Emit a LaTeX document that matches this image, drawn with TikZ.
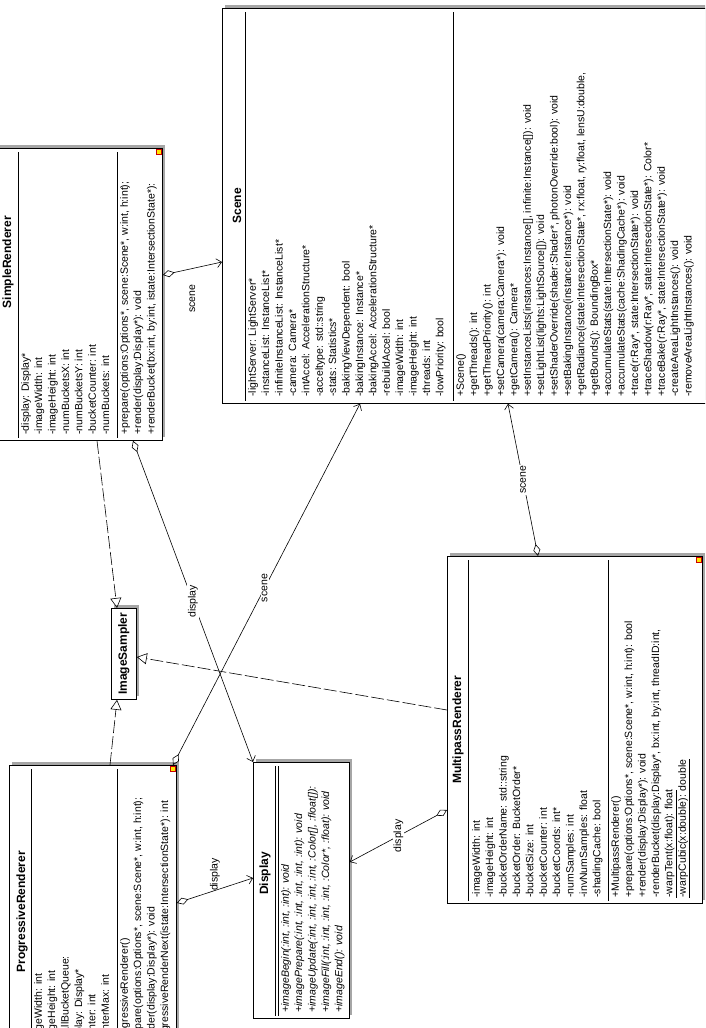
\documentclass[tikz,border=0pt]{standalone}
\usepackage{fontspec}
\setmainfont{Liberation Sans}
\usetikzlibrary{arrows.meta,shadows}

\tikzset{
  classbox/.style={draw=black, fill=white, line width=0.8pt, inner sep=0pt, anchor=north west,
    general shadow={fill=black!35, shadow xshift=3pt, shadow yshift=3pt}},
  clsname/.style={rotate=90, inner sep=0pt, font=\bfseries\fontsize{12}{14}\selectfont},
  members/.style={rotate=90, anchor=north west, align=left, inner sep=0pt,
    font=\fontsize{10.5}{13.4}\selectfont},
  sepline/.style={line width=0.6pt},
  gen/.style={line width=0.6pt, dash pattern=on 13pt off 3pt,
    -{Triangle[open, length=10pt, width=11pt]}},
  assoc/.style={line width=0.6pt,
    {Diamond[open, length=12pt, width=7pt]}-{Straight Barb[length=5pt, width=9pt]}},
  rolelabel/.style={rotate=90, fill=white, inner sep=1pt, font=\fontsize{10.5}{12}\selectfont},
  marker/.style={fill=yellow!90!orange, draw=red!80!black, line width=0.5pt,
    minimum size=5pt, inner sep=0pt},
}

\begin{document}
\begin{tikzpicture}[x=1pt,y=-1pt]
  \clip (0,0) rectangle (705,1028);

  % Scene
  \node[classbox, minimum width=490pt, minimum height=395pt] (scene) at (222,8) {};
  \draw[sepline] ([xshift=23pt,yshift=-4pt]scene.north west) -- ([xshift=23pt,yshift=3pt]scene.south west);
  \draw[sepline] ([xshift=231pt,yshift=-4pt]scene.north west) -- ([xshift=231pt,yshift=3pt]scene.south west);
  \node[clsname] (scene-name) at ([xshift=15pt]scene.west) {Scene};
  \node[members] (scene-attrs) at ([xshift=26pt,yshift=7pt]scene.south west)
    {-lightServer: LightServer*\\ -instanceList: InstanceList*\\ -infiniteInstanceList: InstanceList*\\
     -camera: Camera*\\ -intAccel: AccelerationStructure*\\ -acceltype: std::string\\
     -stats: Statistics*\\ -bakingViewDependent: bool\\ -bakingInstance: Instance*\\
     -bakingAccel: AccelerationStructure*\\ -rebuildAccel: bool\\ -imageWidth: int\\
     -imageHeight: int\\ -threads: int\\ -lowPriority: bool};
  \node[members] (scene-ops) at ([xshift=234pt,yshift=7pt]scene.south west)
    {+Scene()\\ +getThreads(): int\\ +getThreadPriority(): int\\ +setCamera(camera:Camera*): void\\
     +getCamera(): Camera*\\ +setInstanceLists(instances:Instance[], infinite:Instance[]): void\\
     +setLightList(lights:LightSource[]): void\\
     +setShaderOverride(shader:Shader*, photonOverride:bool): void\\
     +setBakingInstance(instance:Instance*): void\\
     +getRadiance(istate:IntersectionState*, rx:float, ry:float, lensU:double,\\
     +getBounds(): BoundingBox*\\ +accumulateStats(state:IntersectionState*): void\\
     +accumulateStats(cache:ShadingCache*): void\\ +trace(r:Ray*, state:IntersectionState*): void\\
     +traceShadow(r:Ray*, state:IntersectionState*): Color*\\
     +traceBake(r:Ray*, state:IntersectionState*): void\\
     -createAreaLightInstances(): void\\ -removeAreaLightInstances(): void};

  % SimpleRenderer
  \node[classbox, minimum width=166pt, minimum height=292pt] (simple) at (-4,148) {};
  \draw[sepline] ([xshift=22pt,yshift=-4pt]simple.north west) -- ([xshift=22pt,yshift=3pt]simple.south west);
  \draw[sepline] ([xshift=121pt,yshift=-4pt]simple.north west) -- ([xshift=121pt,yshift=3pt]simple.south west);
  \node[clsname] (simple-name) at ([xshift=12pt,yshift=-114pt]simple.north west) {SimpleRenderer};
  \node[members] (simple-attrs) at ([xshift=25pt,yshift=6pt]simple.south west)
    {-display: Display*\\ -imageWidth: int\\ -imageHeight: int\\ -numBucketsX: int\\
     -numBucketsY: int\\ -bucketCounter: int\\ -numBuckets: int};
  \node[members] (simple-ops) at ([xshift=124pt,yshift=6pt]simple.south west)
    {+prepare(options:Options*, scene:Scene*, w:int, h:int);\\ +render(display:Display*): void\\
     +renderBucket(bx:int, by:int, istate:IntersectionState*):};
  \node[marker] (simple-mark) at ([xshift=-4pt,yshift=-4pt]simple.north east) {};

  % ImageSampler
  \node[classbox, minimum width=25pt, minimum height=91pt] (isamp) at (111,608) {};
  \node[clsname] (isamp-name) at (isamp.center) {ImageSampler};

  % ProgressiveRenderer
  \node[classbox, minimum width=167pt, minimum height=293pt] (prog) at (9,765) {};
  \draw[sepline] ([xshift=22pt,yshift=-4pt]prog.north west) -- ([xshift=22pt,yshift=3pt]prog.south west);
  \draw[sepline] ([xshift=108pt,yshift=-4pt]prog.north west) -- ([xshift=108pt,yshift=3pt]prog.south west);
  \node[clsname] (prog-name) at ([xshift=13pt]prog.west) {ProgressiveRenderer};
  \node[members] (prog-attrs) at ([xshift=25pt,yshift=8pt]prog.south west)
    {-imageWidth: int\\ -imageHeight: int\\ -smallBucketQueue:\\ -display: Display*\\
     -counter: int\\ -counterMax: int};
  \node[members] (prog-ops) at ([xshift=111pt,yshift=8pt]prog.south west)
    {+ProgressiveRenderer()\\ +prepare(options:Options*, scene:Scene*, w:int, h:int);\\
     +render(display:Display*): void\\ -progressiveRenderNext(istate:IntersectionState*): int};
  \node[marker] (prog-mark) at ([xshift=-4pt,yshift=-4pt]prog.north east) {};

  % Display
  \node[classbox, minimum width=96pt, minimum height=256pt] (display) at (253,762) {};
  \draw[sepline] ([xshift=22pt,yshift=-4pt]display.north west) -- ([xshift=22pt,yshift=3pt]display.south west);
  \draw[sepline] ([xshift=25pt,yshift=-4pt]display.north west) -- ([xshift=25pt,yshift=3pt]display.south west);
  \node[clsname] (display-name) at ([xshift=12pt,yshift=17pt]display.west) {Display};
  \node[members, font=\itshape\fontsize{10.5}{13.4}\selectfont] (display-ops)
    at ([xshift=28pt,yshift=6pt]display.south west)
    {+imageBegin(:int, :int, :int): void\\ +imagePrepare(:int, :int, :int, :int, :int): void\\
     +imageUpdate(:int, :int, :int, :int, :Color[], :float[]):\\
     +imageFill(:int, :int, :int, :int, :Color*, :float): void\\ +imageEnd(): void};

  % MultipassRenderer
  \node[classbox, minimum width=255pt, minimum height=347pt] (multi) at (447,556) {};
  \draw[sepline] ([xshift=21pt,yshift=-4pt]multi.north west) -- ([xshift=21pt,yshift=3pt]multi.south west);
  \draw[sepline] ([xshift=161pt,yshift=-4pt]multi.north west) -- ([xshift=161pt,yshift=3pt]multi.south west);
  \node[clsname] (multi-name) at ([xshift=11pt]multi.west) {MultipassRenderer};
  \node[members] (multi-attrs) at ([xshift=25pt,yshift=6pt]multi.south west)
    {-imageWidth: int\\ -imageHeight: int\\ -bucketOrderName: std::string\\
     -bucketOrder: BucketOrder*\\ -bucketSize: int\\ -bucketCounter: int\\ -bucketCoords: int*\\
     -numSamples: int\\ -invNumSamples: float\\ -shadingCache: bool};
  \node[members] (multi-ops) at ([xshift=164pt,yshift=6pt]multi.south west)
    {+MultipassRenderer()\\ +prepare(options:Options*, scene:Scene*, w:int, h:int): bool\\
     +render(display:Display*): void\\ -renderBucket(display:Display*, bx:int, by:int, threadID:int,\\
     \underline{-warpTent(x:float): float}\\ \underline{-warpCubic(x:double): double}};
  \node[marker] (multi-mark) at ([xshift=-4pt,yshift=-4pt]multi.north east) {};

  % generalizations
  \draw[gen] ([xshift=101pt]simple.south west) -- ([xshift=6pt]isamp.north west);
  \draw[gen] ([xshift=101pt]prog.north west) -- ([xshift=6pt]isamp.south west);
  \draw[gen] ([yshift=-154pt]multi.north west) -- ([yshift=-49pt]isamp.north east);

  % associations
  \draw[assoc] ([xshift=137pt]simple.south west) -- node[rolelabel] (lbl-sd) {display} (display.north west);
  \draw[assoc] ([yshift=-127pt]simple.north east) -- node[yshift=-30pt, rolelabel, fill=none] (lbl-ss) {scene} ([yshift=-254pt]scene.north west);
  \draw[assoc] ([xshift=164pt]prog.north west) -- node[rolelabel, pos=0.49] (lbl-ps) {scene} ([xshift=138pt]scene.south west);
  \draw[assoc] ([yshift=-138pt]prog.north east) -- node[yshift=16pt, rolelabel, fill=none] (lbl-pd) {display} ([yshift=-116pt]display.north west);
  \draw[assoc] ([yshift=-254pt]multi.north west) -- node[rolelabel] (lbl-md) {display} ([yshift=-100pt]display.north east);
  \draw[assoc] ([xshift=91pt]multi.north west) -- node[rolelabel] (lbl-ms) {scene} ([xshift=286pt]scene.south west);
\end{tikzpicture}
\end{document}
